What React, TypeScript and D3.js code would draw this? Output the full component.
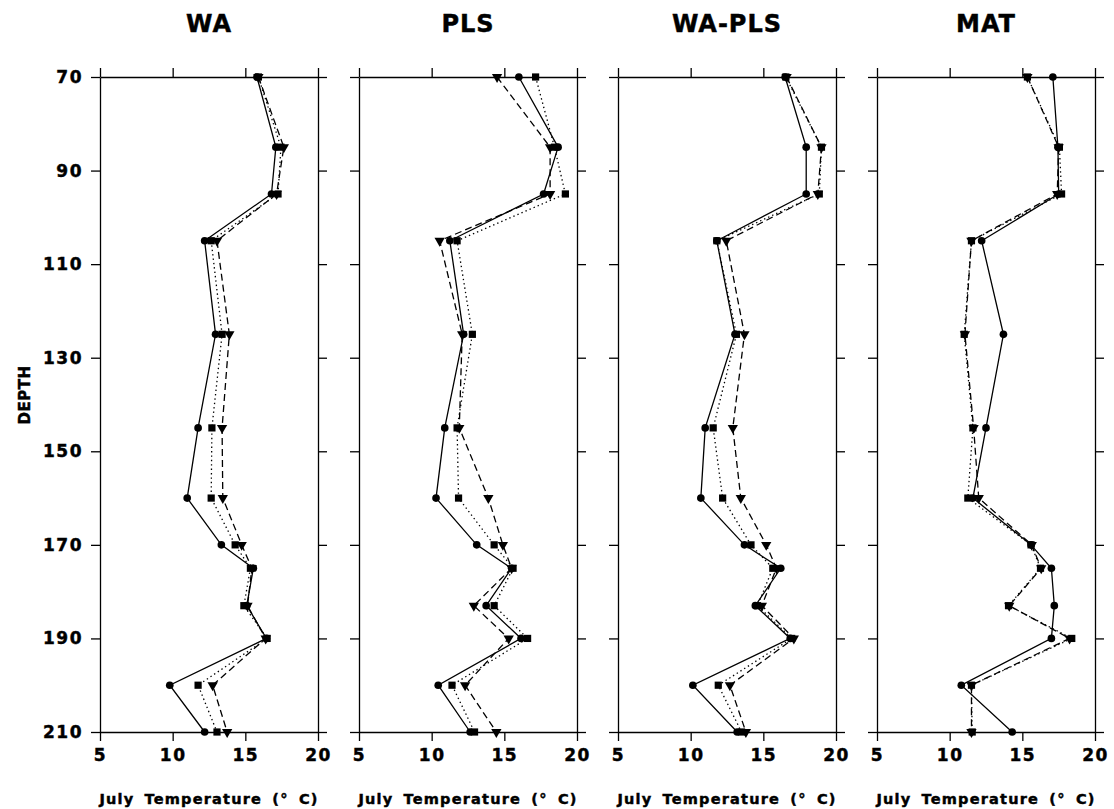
import * as d3 from "d3";
import { useEffect, useRef } from "react";

//DEPTHS OF THE SAMPLES
const depths = [70, 85, 95, 105, 125, 145, 160, 170, 175, 183, 190, 200, 210];
const panelTitles = ["WA", "PLS", "WA-PLS", "MAT"];
const tempTicks = [5, 10, 15, 20];
const depthTicks = [70, 90, 110, 130, 150, 170, 190, 210];

//WA
const waCircle = [15.8, 17.1, 16.8, 12.2, 12.95, 11.75, 11.0, 13.35, 15.55, 15.1, 16.45, 9.8, 12.2];
const waSquare = [15.9, 17.45, 17.25, 12.65, 13.4, 12.7, 12.65, 14.3, 15.35, 14.9, 16.5, 11.75, 13.05];
const waTriangle = [15.9, 17.65, 17.15, 13.05, 13.9, 13.4, 13.45, 14.75, 15.45, 15.15, 16.4, 12.75, 13.75];

//PLS
const plsCircle = [16.0, 18.7, 17.7, 11.25, 12.2, 10.9, 10.3, 13.1, 15.5, 13.75, 16.15, 10.45, 12.65];
const plsSquare = [17.15, 18.45, 19.2, 11.75, 12.8, 11.75, 11.85, 14.3, 15.6, 14.3, 16.6, 11.4, 12.95];
const plsTriangle = [14.5, 18.15, 18.15, 10.55, 12.1, 11.9, 13.9, 14.9, 15.5, 12.9, 15.3, 12.3, 14.45];

//WA-PLS
const wapCircle = [16.5, 17.95, 17.95, 11.8, 13.05, 11.0, 10.7, 13.7, 16.2, 14.45, 16.85, 10.15, 13.2];
const wapSquare = [16.55, 19.0, 18.85, 11.8, 13.15, 11.55, 12.2, 14.15, 15.65, 14.6, 16.95, 11.9, 13.5];
const wapTriangle = [16.6, 19.0, 18.75, 12.45, 13.7, 12.9, 13.45, 15.2, 15.9, 14.9, 17.1, 12.7, 13.8];

//MAT
const matCircle = [17.1, 17.45, 17.5, 12.2, 13.7, 12.5, 11.6, 15.6, 17.0, 17.2, 17.0, 10.8, 14.3];
const matSquare = [15.35, 17.55, 17.7, 11.5, 11.0, 11.6, 11.25, 15.6, 16.25, 14.05, 18.4, 11.5, 11.55];
const matTriangle = [15.35, 17.5, 17.4, 11.5, 11.05, 11.65, 12.0, 15.65, 16.3, 14.1, 18.25, 11.5, 11.5];

const panelSeries = [
  [waCircle, waTriangle, waSquare],
  [plsCircle, plsTriangle, plsSquare],
  [wapCircle, wapTriangle, wapSquare],
  [matCircle, matTriangle, matSquare],
];

const FONT = "DejaVu Sans, Verdana, sans-serif";

const App = () => {
  const svgRef = useRef<SVGSVGElement>(null);

  useEffect(() => {
    const svg = d3.select(svgRef.current);
    svg.selectAll("*").remove();

    const y = d3.scaleLinear().domain([70, 210]).range([77, 732]);
    const panelW = 218;

    //HEAVY TEXT HELPER
    const heavy = (sel: any, size: number) =>
      sel
        .attr("font-family", FONT)
        .attr("font-weight", "bold")
        .attr("font-size", size)
        .attr("fill", "#000")
        .attr("stroke", "#000")
        .attr("stroke-width", 0.45);

    //Y AXIS TITLE
    svg
      .append("text")
      .attr("transform", "translate(30, 395) rotate(-90)")
      .attr("text-anchor", "middle")
      .attr("letter-spacing", 0.5)
      .call(heavy, 15)
      .text("DEPTH");

    panelTitles.forEach((title, i) => {
      const left = 100 + i * 259;
      const x = d3.scaleLinear().domain([5, 20]).range([left, left + panelW]);
      const g = svg.append("g");

      //AXES ON ALL FOUR SIDES, TICKS OUTWARD
      const styleAxis = (sel: any) => {
        sel.attr("font-family", null).attr("font-size", null);
        sel.selectAll("path, line").attr("stroke", "#000").attr("stroke-width", 1.3);
        sel.selectAll("text").call(heavy, 17).attr("letter-spacing", 1.5);
      };
      g.append("g")
        .attr("transform", `translate(${left},0)`)
        .call(
          d3.axisLeft(y).tickValues(depthTicks).tickSize(9).tickSizeOuter(0).tickPadding(8)
            .tickFormat((d: any) => (i === 0 ? String(d) : ""))
        )
        .call(styleAxis);
      g.append("g")
        .attr("transform", `translate(${left + panelW},0)`)
        .call(d3.axisRight(y).tickValues(depthTicks).tickSize(9).tickSizeOuter(0).tickFormat(() => ""))
        .call(styleAxis);
      g.append("g")
        .attr("transform", `translate(0,${y(70)})`)
        .call(d3.axisTop(x).tickValues(tempTicks).tickSize(9).tickSizeOuter(0).tickFormat(() => ""))
        .call(styleAxis);
      g.append("g")
        .attr("transform", `translate(0,${y(210)})`)
        .call(d3.axisBottom(x).tickValues(tempTicks).tickSize(9).tickSizeOuter(0).tickPadding(8))
        .call(styleAxis);

      //PANEL TITLE
      g.append("text")
        .attr("x", left + panelW / 2)
        .attr("y", 32)
        .attr("text-anchor", "middle")
        .attr("letter-spacing", 1)
        .call(heavy, 24)
        .text(title);

      //X AXIS TITLE
      g.append("text")
        .attr("x", left + panelW / 2)
        .attr("y", 804)
        .attr("text-anchor", "middle")
        .attr("letter-spacing", 1.2)
        .attr("word-spacing", 4)
        .call(heavy, 14.5)
        .text("July Temperature (° C)");

      //LINES
      const dashes = ["none", "7,4", "1.4,3"];
      const line = d3
        .line<number>()
        .x((d) => x(d))
        .y((_, j) => y(depths[j]));
      panelSeries[i].forEach((vals, k) => {
        g.append("path")
          .attr("d", line(vals))
          .attr("fill", "none")
          .attr("stroke", "#000")
          .attr("stroke-width", 1.3)
          .attr("stroke-dasharray", dashes[k]);
      });

      //MARKERS
      const symbols = [
        d3.symbol().type(d3.symbolCircle).size(46),
        d3.symbol().type(d3.symbolTriangle).size(46),
        d3.symbol().type(d3.symbolSquare).size(52),
      ];
      panelSeries[i].forEach((vals, k) => {
        g.append("g")
          .selectAll("path")
          .data(vals)
          .enter()
          .append("path")
          .attr("d", symbols[k]() as string)
          .attr("transform", (d, j) => `translate(${x(d)},${y(depths[j])})${k === 1 ? " rotate(180)" : ""}`)
          .attr("fill", "#000");
      });
    });
  }, []);

  return (
    <svg
      ref={svgRef}
      width={1114}
      height={809}
      style={{ position: "absolute", left: 0, top: 0, background: "#fff" }}
    />
  );
};

export default App;
